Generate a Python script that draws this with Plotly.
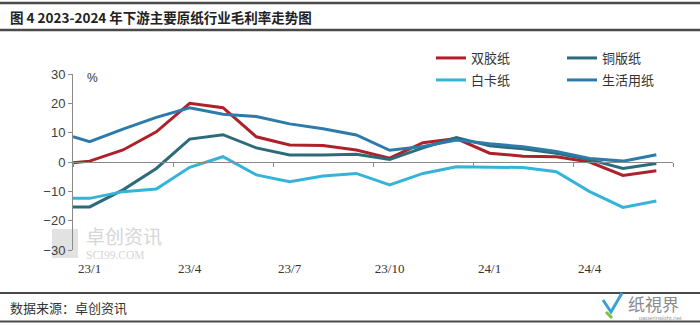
import plotly.graph_objects as go

# ---- data ----
month_idx = [-0.5, 0, 1, 2, 3, 4, 5, 6, 7, 8, 9, 10, 11, 12, 13, 14, 15, 16, 17]
tick_pos = [0, 3, 6, 9, 12, 15]
tick_text = ["23/1", "23/4", "23/7", "23/10", "24/1", "24/4"]

shuangjiao = [-0.3, 0.3, 4.1, 10.3, 20.0, 18.5, 8.6, 5.8, 5.6, 4.1, 1.3, 6.6, 8.0, 3.0, 2.0, 1.8, 0.0, -4.6, -3.0]
tongban = [-15.3, -15.3, -9.5, -2.2, 7.8, 9.3, 4.8, 2.4, 2.4, 2.6, 0.9, 4.8, 8.3, 5.5, 4.5, 3.0, 0.8, -2.2, -0.5]
baika = [-12.4, -12.4, -10.1, -9.2, -1.8, 1.8, -4.4, -6.7, -4.8, -3.9, -7.8, -3.9, -1.6, -1.8, -1.9, -3.3, -10.1, -15.5, -13.3]
shenghuo = [8.6, 6.9, 11.2, 15.2, 18.5, 16.3, 15.5, 13.0, 11.3, 9.2, 4.0, 5.3, 7.5, 6.2, 5.2, 3.6, 1.2, 0.3, 2.5]

series = [
    ("双胶纸", shuangjiao, "#B0202A", "legend"),
    ("铜版纸", tongban, "#2D6B7B", "legend2"),
    ("白卡纸", baika, "#36B3D9", "legend3"),
    ("生活用纸", shenghuo, "#2C7BAA", "legend4"),
]

W, H = 700, 325
L, R, T, B = 73, 27, 74, 75
PW, PH = W - L - R, H - T - B

def px(x):
    return (x - L) / PW

def py(y):
    return (H - B - y) / PH

fig = go.Figure()
for name, vals, color, lg in series:
    fig.add_trace(go.Scatter(x=month_idx, y=vals, name=name, mode="lines",
                             line=dict(color=color, width=3), legend=lg))

# invisible trace to activate the zero-line axis
fig.add_trace(go.Scatter(x=[-0.5, 17.5], y=[0, 0], xaxis="x2", mode="lines",
                         line=dict(width=0), showlegend=False, hoverinfo="skip"))

tick_font = dict(family="Liberation Sans, Arial, sans-serif", size=13, color="#404040")
legend_font = dict(family="Noto Sans CJK SC", size=13, color="#333")

def leg(x, y):
    return dict(orientation="h", x=px(x), y=py(y), xanchor="left", yanchor="middle",
                font=legend_font, bgcolor="rgba(0,0,0,0)", borderwidth=0)

fig.update_layout(
    width=W, height=H,
    margin=dict(l=L, r=R, t=T, b=B, autoexpand=False),
    paper_bgcolor="white", plot_bgcolor="white",
    xaxis=dict(range=[-0.5, 17.5], tickmode="array", tickvals=tick_pos, ticktext=tick_text,
               showgrid=False, zeroline=False, showline=False, automargin=False,
               ticks="outside", ticklen=6, tickcolor="rgba(0,0,0,0)",
               tickfont=dict(family="Liberation Serif, Times New Roman, serif", size=13, color="#333")),
    xaxis2=dict(range=[-0.5, 17.5], overlaying="x", anchor="free", position=0.5, side="bottom",
                showline=True, linecolor="#8a8a8a", linewidth=1,
                tickmode="array", tickvals=[-0.5, 2.5, 5.5, 8.5, 11.5, 14.5, 17.5],
                ticks="outside", ticklen=4, tickcolor="#8a8a8a",
                showticklabels=False, showgrid=False, zeroline=False),
    yaxis=dict(range=[-30, 30], dtick=10, showgrid=False, zeroline=False, automargin=False,
               showline=True, linecolor="#8a8a8a", linewidth=1,
               ticks="outside", ticklen=4, tickcolor="#8a8a8a", tickfont=tick_font),
    legend=leg(431, 58),
    legend2=leg(562, 58),
    legend3=leg(431, 80),
    legend4=leg(562, 80),
    showlegend=True,
)

def ann(text, x, y, size, color, family, xanchor="left"):
    return dict(text=text, xref="paper", yref="paper", x=px(x), y=py(y),
                xanchor=xanchor, yanchor="middle", showarrow=False,
                font=dict(family=family, size=size, color=color))

annotations = [
    ann("<b>图 4 2023-2024 年下游主要原纸行业毛利率走势图</b>", 8, 17, 13.5, "#222", "Noto Sans CJK SC"),
    ann("%", 85, 78, 12, "#333", "Liberation Sans"),
    ann("数据来源：卓创资讯", 8, 307, 13, "#333", "Noto Sans CJK SC"),
    ann("卓创资讯", 84, 235, 19, "#d6d6d6", "Noto Sans CJK SC"),
    ann("SCI99.COM", 84, 254.5, 11.5, "#d6d6d6", "Liberation Serif"),
    ann("纸視界", 626, 303, 17, "#8a8a8a", "Noto Sans CJK SC"),
    ann("paperinsight.net", 637, 318, 6, "#9a9a9a", "Liberation Sans"),
]
fig.update_layout(annotations=annotations)

shapes = []
for yline, wd in [(3, 2.5), (30, 2.5), (293, 2), (321.5, 2)]:
    shapes.append(dict(type="line", xref="paper", yref="paper", x0=px(0), x1=px(700),
                       y0=py(yline), y1=py(yline), line=dict(color="#4a4a4a", width=wd)))
# watermark block
shapes.append(dict(type="rect", xref="paper", yref="paper", x0=px(52), x1=px(78),
                   y0=py(258), y1=py(229), fillcolor="#e2e2e2", line=dict(width=0), layer="below"))
# logo icon
shapes.append(dict(type="path", xref="paper", yref="paper",
                   path=f"M {px(603)} {py(300)} L {px(611)} {py(312)} L {px(622)} {py(293)}",
                   line=dict(color="#3aa0d8", width=3)))
shapes.append(dict(type="path", xref="paper", yref="paper",
                   path=f"M {px(606)} {py(312)} L {px(612)} {py(318)}",
                   line=dict(color="#7cc242", width=3)))
fig.update_layout(shapes=shapes)

fig.write_html("out.html")
